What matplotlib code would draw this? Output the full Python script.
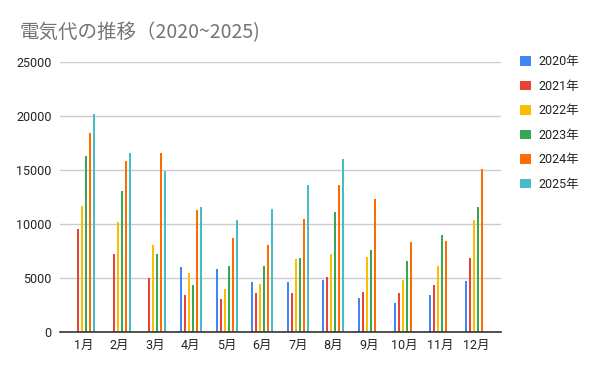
import numpy as np
import matplotlib
matplotlib.use("Agg")
import matplotlib.pyplot as plt

plt.rcParams['font.family'] = ['Roboto', 'Noto Sans CJK JP', 'DejaVu Sans']

months = ["1月", "2月", "3月", "4月", "5月", "6月", "7月", "8月", "9月", "10月", "11月", "12月"]
years = ["2020年", "2021年", "2022年", "2023年", "2024年", "2025年"]
nan = np.nan

# monthly electricity cost per year
y2020 = [nan, nan, nan, 6000, 5850, 4650, 4650, 4800, 3150, 2700, 3450, 4750]
y2021 = [9550, 7200, 5000, 3450, 3050, 3600, 3600, 5100, 3700, 3600, 4350, 6850]
y2022 = [11650, 10200, 8050, 5450, 4000, 4450, 6750, 7200, 6950, 4800, 6100, 10400]
y2023 = [16300, 13050, 7200, 4350, 6100, 6100, 6850, 11100, 7600, 6550, 9000, 11600]
y2024 = [18400, 15850, 16550, 11300, 8700, 8050, 10450, 13600, 12300, 8350, 8450, 15100]
y2025 = [20200, 16550, 14950, 11550, 10400, 11400, 13600, 16000, nan, nan, nan, nan]
series = [y2020, y2021, y2022, y2023, y2024, y2025]
colors = ["#4285F4", "#EA4335", "#FBBC04", "#34A853", "#FF6D01", "#46BDC6"]

fig = plt.figure(figsize=(6, 3.71), dpi=100)
ax = fig.add_axes([0.1, 0.1051, 0.735, 0.7278])

x = np.arange(len(months))
step = 0.1122
width = 0.056
for k, (vals, c, lab) in enumerate(zip(series, colors, years)):
    ax.bar(x + (k - 2.5) * step, vals, width=width, color=c, label=lab, zorder=3,
           linewidth=0)

ax.set_ylim(0, 25000)
ax.set_yticks(range(0, 25001, 5000))
ax.set_xlim(-0.673, 11.70)
ax.set_xticks(x)
ax.set_xticklabels(months)
ax.grid(axis='y', color='#cccccc', linewidth=1, zorder=0)
for s in ['top', 'right', 'left']:
    ax.spines[s].set_visible(False)
ax.spines['bottom'].set_color('#333333')
ax.spines['bottom'].set_linewidth(1.2)
ax.spines['bottom'].set_zorder(4)
ax.tick_params(axis='both', length=0, labelsize=9, colors='#222222')
ax.tick_params(axis='y', pad=6)
ax.tick_params(axis='x', pad=5)

fig.text(0.033, 0.912, "電気代の推移（2020~2025)", fontsize=14, color='#757575',
         family=['Noto Sans CJK JP', 'DejaVu Sans'], va='center', ha='left')

leg = ax.legend(loc='upper left', bbox_to_anchor=(0.866, 0.851), bbox_transform=fig.transFigure,
                frameon=False, fontsize=9, handlelength=0.9, handleheight=0.8,
                handletextpad=0.6, labelspacing=0.92, borderpad=0, borderaxespad=0)
for t in leg.get_texts():
    t.set_color('#222222')

fig.savefig("out.png", dpi=100)
